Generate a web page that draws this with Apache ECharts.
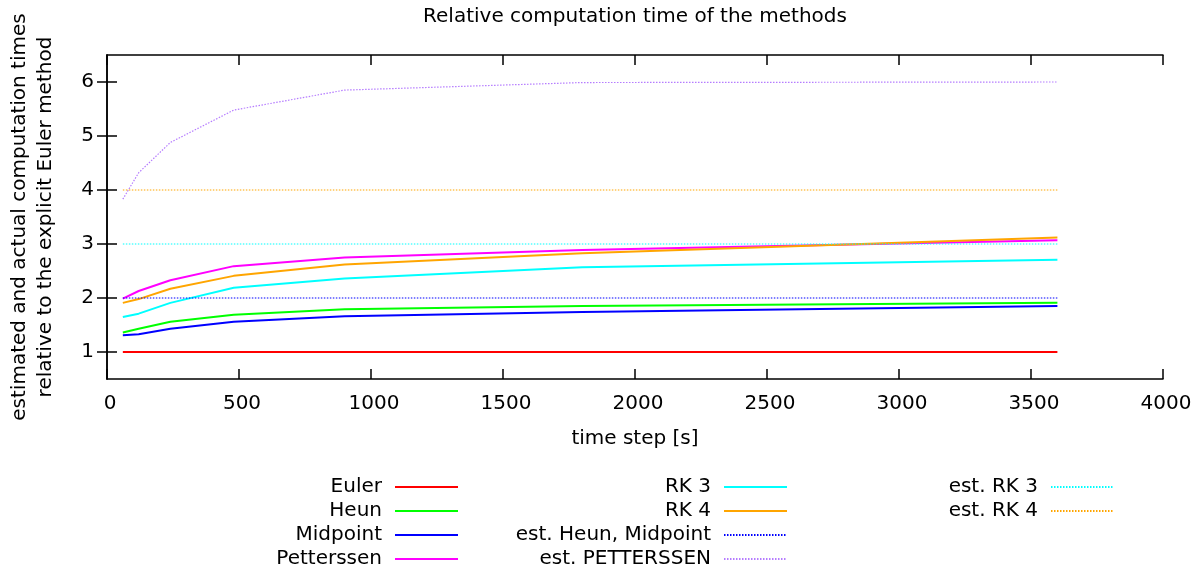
<!DOCTYPE html>
<html>
<head>
<meta charset="utf-8">
<script src="https://cdn.jsdelivr.net/npm/echarts@6/dist/echarts.min.js"></script>
<style>html,body{margin:0;padding:0;background:#fff}#c{width:1195px;height:572px}</style>
</head>
<body>
<div id="c"></div>
<script>
const timeSteps = [60, 120, 240, 480, 900, 1800, 3600];
const euler = [1, 1, 1, 1, 1, 1, 1];
const heun = [1.36, 1.43, 1.56, 1.69, 1.79, 1.85, 1.91];
const midpoint = [1.31, 1.33, 1.43, 1.56, 1.66, 1.74, 1.85];
const petterssen = [1.99, 2.13, 2.33, 2.59, 2.75, 2.89, 3.07];
const rk3 = [1.65, 1.71, 1.91, 2.19, 2.36, 2.57, 2.71];
const rk4 = [1.91, 1.98, 2.17, 2.41, 2.62, 2.83, 3.12];
const estHeunMidpoint = [2, 2, 2, 2, 2, 2, 2];
const estPetterssen = [3.83, 4.32, 4.88, 5.48, 5.85, 5.99, 6.0];
const estRK3 = [3, 3, 3, 3, 3, 3, 3];
const estRK4 = [4, 4, 4, 4, 4, 4, 4];
const yTicks = [1, 2, 3, 4, 5, 6];

const FONT = 'DejaVu Sans';
function pts(v) { return timeSteps.map((x, i) => [x, v[i]]); }
function solid(name, color, v) {
  return { name, type: 'line', data: pts(v), symbol: 'none', animation: false,
    lineStyle: { color, width: 2 }, itemStyle: { color } };
}
function dotted(name, color, v) {
  return { name, type: 'line', data: pts(v), symbol: 'none', animation: false,
    lineStyle: { color, width: 1.2, type: [1.5, 1.5] }, itemStyle: { color } };
}
function legend(names, right) {
  return { data: names, orient: 'vertical', align: 'right', right, top: 477, padding: 0,
    itemWidth: 63, itemHeight: 20, itemGap: 4, selectedMode: false,
    itemStyle: { opacity: 0 },
    textStyle: { fontFamily: FONT, fontSize: 20, color: '#000', padding: [0, 8, 0, 0] } };
}
const axisLine = { show: true, lineStyle: { color: '#000', width: 1.5 } };
const tick = { show: true, inside: true, length: 10, lineStyle: { color: '#000', width: 1.5 } };

const chart = echarts.init(document.getElementById('c'), null, { renderer: 'canvas' });
chart.setOption({
  backgroundColor: '#fff',
  animation: false,
  title: { text: 'Relative computation time of the methods', left: 635, top: 7, padding: 0,
    textAlign: 'center',
    textStyle: { fontFamily: FONT, fontSize: 20, fontWeight: 'normal', color: '#000' } },
  grid: { left: 107, right: 32, top: 55, bottom: 193, containLabel: false, outerBoundsMode: 'none' },
  legend: [
    legend(['Euler', 'Heun', 'Midpoint', 'Petterssen'], 736),
    legend(['RK 3', 'RK 4', 'est. Heun, Midpoint', 'est. PETTERSSEN'], 407),
    legend(['est. RK 3', 'est. RK 4'], 80)
  ],
  xAxis: [
    { type: 'value', min: 0, max: 4000, interval: 500, position: 'bottom',
      name: 'time step [s]', nameLocation: 'middle', nameGap: 50,
      nameTextStyle: { fontFamily: FONT, fontSize: 20, color: '#000' },
      axisLine, axisTick: tick, splitLine: { show: false },
      axisLabel: { fontFamily: FONT, fontSize: 20, color: '#000', margin: 15, padding: [0, 0, 0, 6], formatter: v => String(v) } },
    { type: 'value', min: 0, max: 4000, interval: 500, position: 'top',
      axisLine, axisTick: tick, splitLine: { show: false }, axisLabel: { show: false } }
  ],
  yAxis: [
    { type: 'value', min: 0.5, max: 6.5, position: 'left',
      name: 'estimated and actual computation times\nrelative to the explicit Euler method',
      nameLocation: 'middle', nameRotate: 90, nameGap: 48,
      nameTextStyle: { fontFamily: FONT, fontSize: 20, color: '#000', lineHeight: 26 },
      axisLine, axisTick: Object.assign({}, tick, { customValues: yTicks }), splitLine: { show: false },
      axisLabel: { fontFamily: FONT, fontSize: 20, color: '#000', margin: 13, customValues: yTicks } },
    { type: 'value', min: 0.5, max: 6.5, position: 'right',
      axisLine, axisTick: Object.assign({}, tick, { customValues: yTicks }), splitLine: { show: false },
      axisLabel: { show: false } }
  ],
  series: [
    solid('Euler', '#ff0000', euler),
    solid('Heun', '#00ff00', heun),
    solid('Midpoint', '#0000ff', midpoint),
    solid('Petterssen', '#ff00ff', petterssen),
    solid('RK 3', '#00ffff', rk3),
    solid('RK 4', '#ffa500', rk4),
    dotted('est. Heun, Midpoint', '#0000ff', estHeunMidpoint),
    dotted('est. PETTERSSEN', '#b57cff', estPetterssen),
    dotted('est. RK 3', '#00ffff', estRK3),
    dotted('est. RK 4', '#ffa500', estRK4)
  ]
});
</script>
</body>
</html>
